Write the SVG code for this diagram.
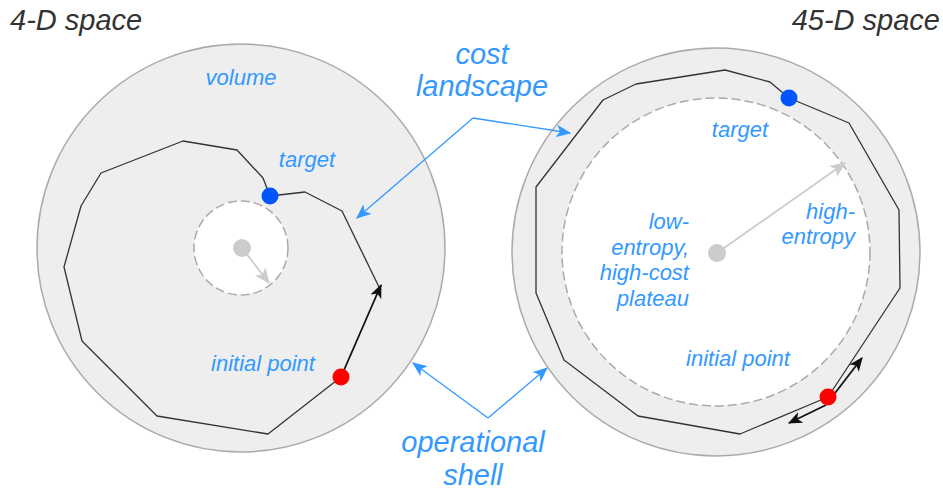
<svg xmlns="http://www.w3.org/2000/svg" width="943" height="490" viewBox="0 0 943 490">
  <style>
    .t { font-family: "Liberation Sans", Arial, sans-serif; font-style: italic; }
    .title { font-size: 29px; fill: #333333; }
    .big { font-size: 29px; fill: #3399ff; }
    .lbl { font-size: 22px; fill: #3399ff; }
    .disk { fill: #eeeeee; stroke: #aaaaaa; stroke-width: 1.5; }
    .core { fill: #ffffff; stroke: #aaaaaa; stroke-width: 1.5; stroke-dasharray: 9 4; }
    .walk { fill: none; stroke: #333333; stroke-width: 1.3; stroke-linejoin: round; }
    .step { fill: none; stroke: #111111; stroke-width: 1.8; }
    .radial { fill: none; stroke: #cccccc; stroke-width: 1.8; }
    .callout { fill: none; stroke: #3399ff; stroke-width: 1.3; }
  </style>
  <defs>
    <marker id="headBlack" viewBox="0 0 12 10" refX="11" refY="5" markerWidth="14" markerHeight="12" markerUnits="userSpaceOnUse" orient="auto">
      <path d="M0,0 L12,5 L0,10 L3,5 z" fill="#111111"/>
    </marker>
    <marker id="headGray" viewBox="0 0 12 10" refX="11" refY="5" markerWidth="16" markerHeight="14" markerUnits="userSpaceOnUse" orient="auto">
      <path d="M0,0 L12,5 L0,10 L3,5 z" fill="#cccccc"/>
    </marker>
    <marker id="headBlue" viewBox="0 0 12 10" refX="11" refY="5" markerWidth="15" markerHeight="13" markerUnits="userSpaceOnUse" orient="auto">
      <path d="M0,0 L12,5 L0,10 L3,5 z" fill="#3399ff"/>
    </marker>
  </defs>

  <!-- 4-D space -->
  <g id="space-4d">
    <text class="t title" x="10" y="30">4-D space</text>
    <circle class="disk" cx="241" cy="248" r="204"/>
    <circle class="core" cx="241" cy="248" r="47"/>
    <line class="radial" x1="242" y1="248" x2="269" y2="283" marker-end="url(#headGray)"/>
    <circle cx="242" cy="248" r="9" fill="#cccccc"/>
    <polyline class="walk" points="341,377 268,434 157,416 82,341 64,267 81,206 101,173 183,141 237,150 263,178 270,196 305,192 342,211 379,287"/>
    <line class="step" x1="341" y1="377" x2="381" y2="285" marker-end="url(#headBlack)"/>
    <circle cx="270" cy="196" r="8.5" fill="#0055ff"/>
    <circle cx="341" cy="377" r="8.5" fill="#ff0000"/>
    <text class="t lbl" x="241" y="85" text-anchor="middle">volume</text>
    <text class="t lbl" x="307" y="167" text-anchor="middle">target</text>
    <text class="t lbl" x="263" y="371" text-anchor="middle">initial point</text>
  </g>

  <!-- 45-D space -->
  <g id="space-45d">
    <text class="t title" x="940" y="30" text-anchor="end">45-D space</text>
    <circle class="disk" cx="716" cy="252" r="204"/>
    <circle class="core" cx="716" cy="252" r="154"/>
    <line class="radial" x1="717" y1="253" x2="845" y2="163" marker-end="url(#headGray)"/>
    <circle cx="717" cy="253" r="9" fill="#cccccc"/>
    <polyline class="walk" points="828,397 900,288 899,210 849,123 789,98 770,82 725,70 636,84 603,100 536,187 536,293 564,360 638,416 740,434 828,397"/>
    <line class="step" x1="832" y1="397" x2="862" y2="358" marker-end="url(#headBlack)"/>
    <line class="step" x1="826" y1="405" x2="789" y2="423" marker-end="url(#headBlack)"/>
    <circle cx="789" cy="98" r="8.5" fill="#0055ff"/>
    <circle cx="828" cy="397" r="8.5" fill="#ff0000"/>
    <text class="t lbl" x="740" y="137" text-anchor="middle">target</text>
    <text class="t lbl" x="855" y="219" text-anchor="end">high-</text>
    <text class="t lbl" x="855" y="244" text-anchor="end">entropy</text>
    <text class="t lbl" x="689" y="229" text-anchor="end">low-</text>
    <text class="t lbl" x="689" y="255" text-anchor="end">entropy,</text>
    <text class="t lbl" x="689" y="280" text-anchor="end">high-cost</text>
    <text class="t lbl" x="689" y="306" text-anchor="end">plateau</text>
    <text class="t lbl" x="738" y="366" text-anchor="middle">initial point</text>
  </g>

  <!-- callout labels -->
  <g id="label-cost">
    <text class="t big" x="482" y="64" text-anchor="middle">cost</text>
    <text class="t big" x="482" y="96" text-anchor="middle">landscape</text>
  </g>
  <g id="label-shell">
    <text class="t big" x="473" y="452" text-anchor="middle">operational</text>
    <text class="t big" x="473" y="485" text-anchor="middle">shell</text>
  </g>

  <g id="connectors">
    <polyline class="callout" points="473,118 357,218" marker-end="url(#headBlue)"/>
    <polyline class="callout" points="473,118 570,133" marker-end="url(#headBlue)"/>
    <polyline class="callout" points="488,418 413,363" marker-end="url(#headBlue)"/>
    <polyline class="callout" points="488,418 547,368" marker-end="url(#headBlue)"/>
  </g>
</svg>
